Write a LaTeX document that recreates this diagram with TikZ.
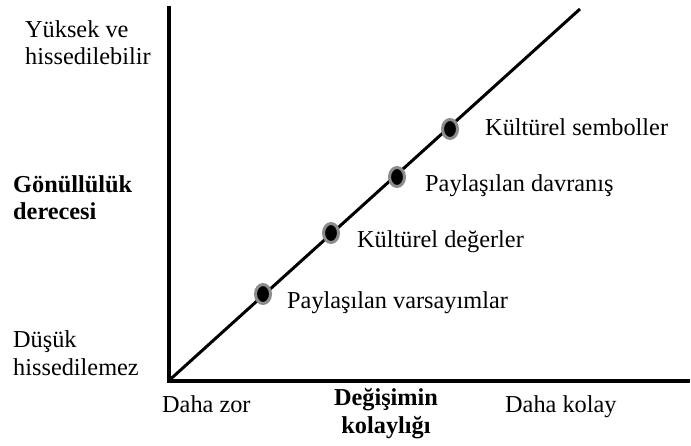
\documentclass[tikz,border=0pt]{standalone}
\usepackage{fontspec}
\setmainfont{Liberation Serif}
\usetikzlibrary{shapes.geometric}
\definecolor{ringgray}{HTML}{8C8C8C}
\begin{document}
\begin{tikzpicture}[x=1pt,y=-1pt,
  lbl/.style={inner sep=0pt, font=\fontsize{24.3}{27.5}\selectfont, anchor=base west, align=left},
  blbl/.style={lbl, font=\fontsize{24.3}{27.5}\selectfont\bfseries},
  dot/.style={ellipse, draw=ringgray, line width=3pt, fill=black, minimum width=15pt, minimum height=19pt, inner sep=0pt},
  axis/.style={line width=4pt},
  diag/.style={line width=3pt}]
\useasboundingbox (0,0) rectangle (691,446);
\coordinate (o) at (169,380.5);
\coordinate (ytop) at (169,6);
\coordinate (xend) at (690,380.5);
\coordinate (dtop) at (580,9);
\draw[axis] (ytop) -- (o.center) -- (xend);
\draw[diag] (o) -- (dtop);
% dots
\node[dot] (d1) at (263,294) {};
\node[dot] (d2) at (331,233) {};
\node[dot] (d3) at (397,177) {};
\node[dot] (d4) at (450,129) {};
% dot labels
\node[lbl] (l1) at (287,309) {Paylaşılan varsayımlar};
\node[lbl] (l2) at (357,248) {Kültürel değerler};
\node[lbl] (l3) at (425,192) {Paylaşılan davranış};
\node[lbl] (l4) at (485,136) {Kültürel semboller};
% y axis labels (anchor = baseline of last line)
\node[lbl] (yhi) at (25,65) {Yüksek ve\\hissedilebilir};
\node[blbl] (ymid) at (13,220) {Gönüllülük\\derecesi};
\node[lbl] (ylo) at (13,375) {Düşük\\hissedilemez};
% x axis labels
\node[lbl] (xlo) at (162,412) {Daha zor};
\node[blbl, anchor=base, align=center] (xmid) at (386,433) {Değişimin\\kolaylığı};
\node[lbl] (xhi) at (505,412) {Daha kolay};
\end{tikzpicture}
\end{document}
